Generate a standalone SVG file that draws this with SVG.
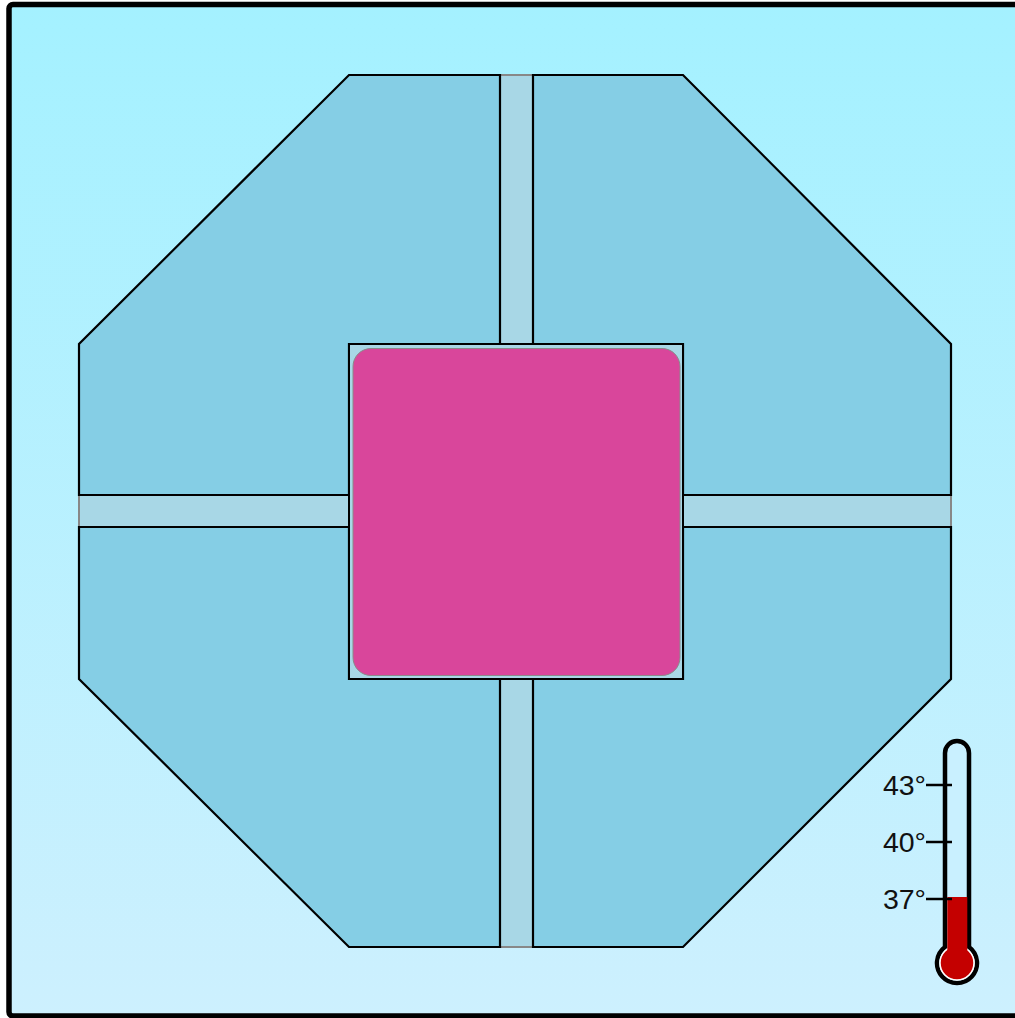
<svg xmlns="http://www.w3.org/2000/svg" width="1015" height="1018" viewBox="0 0 1015 1018">
  <defs>
    <linearGradient id="bg" x1="0" y1="0" x2="0" y2="1">
      <stop offset="0" stop-color="#A4F1FF"/>
      <stop offset="1" stop-color="#CDF0FE"/>
    </linearGradient>
  </defs>
  <style>
    .quad { fill: #85CEE5; stroke: #000; stroke-width: 2.2; stroke-linejoin: miter; }
    .chan { fill: #A8D7E6; stroke: #888; stroke-width: 2; }
    .lbl { font-family: "Liberation Sans", Arial, sans-serif; font-size: 28.5px; fill: #111; text-anchor: end; }
    .tick { stroke: #000; stroke-width: 2.5; }
  </style>
  <rect id="frame" x="9" y="4.5" width="1012" height="1011.5" rx="4" fill="url(#bg)" stroke="#000" stroke-width="5.5"/>

  <g id="connectors">
    <rect id="ch-top" class="chan" x="500" y="75" width="33" height="269"/>
    <rect id="ch-bottom" class="chan" x="500" y="679" width="33" height="268"/>
    <rect id="ch-left" class="chan" x="79" y="495" width="270" height="32"/>
    <rect id="ch-right" class="chan" x="683" y="495" width="268" height="32"/>
  </g>

  <g id="quad-tl"><polygon class="quad" points="349,75 500,75 500,344 349,344 349,495 79,495 79,344"/></g>
  <g id="quad-tr"><polygon class="quad" points="533,75 683,75 951,344 951,495 683,495 683,344 533,344"/></g>
  <g id="quad-br"><polygon class="quad" points="683,527 951,527 951,679 683,947 533,947 533,679 683,679"/></g>
  <g id="quad-bl"><polygon class="quad" points="349,527 349,679 500,679 500,947 349,947 79,679 79,527"/></g>

  <g id="core">
    <rect x="349" y="344" width="334" height="335" fill="#A8D7E6" stroke="#000" stroke-width="2"/>
    <rect x="353" y="348.5" width="327" height="327" rx="18" fill="#D9469B" stroke="#8a8a8a" stroke-width="1"/>
  </g>

  <g id="thermometer">
    <path d="M945,753 A12,12 0 0 1 969,753 L969,947 A20,20 0 1 1 945,947 Z" fill="#C9F0FF" stroke="#000" stroke-width="4.5"/>
    <circle cx="957" cy="963" r="17" fill="#C40000" stroke="#fff" stroke-width="1.5"/>
    <rect x="947.3" y="897" width="20" height="58" fill="#C40000"/>
    <line class="tick" x1="926" y1="785" x2="952" y2="785"/>
    <line class="tick" x1="926" y1="842" x2="952" y2="842"/>
    <line class="tick" x1="926" y1="899" x2="952" y2="899"/>
    <text class="lbl" x="926" y="795">43°</text>
    <text class="lbl" x="926" y="852">40°</text>
    <text class="lbl" x="926" y="909">37°</text>
  </g>
</svg>
